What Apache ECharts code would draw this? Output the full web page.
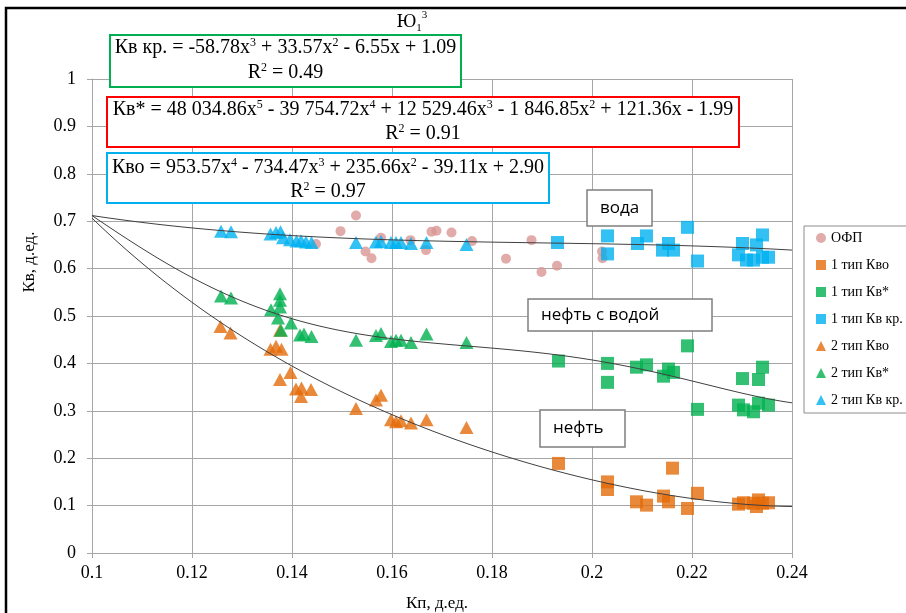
<!DOCTYPE html>
<html>
<head>
<meta charset="utf-8">
<script src="https://cdn.jsdelivr.net/npm/echarts/dist/echarts.min.js"></script>
<style>
html,body{margin:0;padding:0;background:#fff;}
#chart{width:906px;height:613px;}
</style>
</head>
<body>
<div id="chart"></div>
<script>
// --- measured points, [Кп, Кв] ---
const ofp = [
  [0.1448,0.652],[0.1497,0.679],[0.1528,0.712],[0.1547,0.636],[0.1559,0.622],
  [0.1578,0.665],[0.1637,0.660],[0.1668,0.639],[0.1679,0.678],[0.1689,0.680],
  [0.1719,0.676],[0.1760,0.658],[0.1828,0.621],[0.1879,0.660],[0.1899,0.593],
  [0.1930,0.606],[0.2020,0.636],[0.2021,0.622]
];
const type1Kvo = [
  [0.1933,0.189],[0.2031,0.150],[0.2031,0.134],[0.2089,0.108],[0.2109,0.101],
  [0.2143,0.120],[0.2153,0.108],[0.2161,0.179],[0.2191,0.094],[0.2211,0.126],
  [0.2293,0.103],[0.2303,0.106],[0.2323,0.105],[0.2333,0.112],[0.2341,0.105],
  [0.2353,0.106],[0.2329,0.098]
];
const type1KvStar = [
  [0.1933,0.405],[0.2031,0.400],[0.2031,0.360],[0.2089,0.392],[0.2109,0.397],
  [0.2143,0.373],[0.2153,0.388],[0.2163,0.381],[0.2191,0.437],[0.2211,0.303],
  [0.2301,0.368],[0.2293,0.312],[0.2303,0.302],[0.2323,0.298],[0.2333,0.366],
  [0.2341,0.392],[0.2353,0.312],[0.2333,0.316]
];
const type1KvKr = [
  [0.1931,0.655],[0.2031,0.669],[0.2031,0.631],[0.2091,0.653],[0.2109,0.669],
  [0.2141,0.639],[0.2153,0.653],[0.2163,0.639],[0.2191,0.687],[0.2211,0.616],
  [0.2301,0.653],[0.2293,0.629],[0.2309,0.618],[0.2323,0.618],[0.2329,0.650],
  [0.2341,0.671],[0.2353,0.624],[0.2341,0.624]
];
const type2Kvo = [
  [0.1257,0.478],[0.1277,0.464],[0.1357,0.430],[0.1368,0.436],[0.1379,0.430],
  [0.1376,0.470],[0.1376,0.366],[0.1397,0.381],[0.1408,0.346],[0.1419,0.348],
  [0.1418,0.330],[0.1438,0.345],[0.1528,0.305],[0.1568,0.323],[0.1578,0.333],
  [0.1598,0.281],[0.1608,0.277],[0.1618,0.279],[0.1638,0.274],[0.1669,0.281],
  [0.1749,0.265]
];
const type2KvStar = [
  [0.1258,0.542],[0.1278,0.538],[0.1376,0.547],[0.1376,0.533],[0.1376,0.519],
  [0.1358,0.513],[0.1372,0.496],[0.1398,0.485],[0.1378,0.470],[0.1416,0.460],
  [0.1424,0.462],[0.1439,0.457],[0.1528,0.449],[0.1568,0.459],[0.1578,0.463],
  [0.1598,0.446],[0.1608,0.449],[0.1618,0.449],[0.1638,0.444],[0.1669,0.462],
  [0.1749,0.444]
];
const type2KvKr = [
  [0.1258,0.679],[0.1278,0.678],[0.1357,0.673],[0.1368,0.676],[0.1377,0.678],
  [0.1382,0.665],[0.1396,0.661],[0.1409,0.658],[0.1418,0.659],[0.1428,0.656],
  [0.1439,0.655],[0.1528,0.655],[0.1568,0.656],[0.1578,0.657],[0.1598,0.655],
  [0.1608,0.655],[0.1618,0.655],[0.1638,0.653],[0.1669,0.655],[0.1749,0.651]
];

// --- trend polynomials, coefficients in ascending powers of x ---
const kvKrCoef   = [1.09, -6.55, 33.57, -58.78];
const kvStarCoef = [-1.99, 121.36, -1846.85, 12529.46, -39754.72, 48034.86];
const kvoCoef    = [2.90, -39.11, 235.66, -734.47, 953.57];

const legendNames = ['ОФП','1 тип Кво','1 тип Кв*','1 тип Кв кр.','2 тип Кво','2 тип Кв*','2 тип Кв кр.'];
const xMin = 0.1, xMax = 0.24, xStep = 0.02;
const yMin = 0, yMax = 1, yStep = 0.1;

function poly(c, x) {
  let s = 0;
  for (let i = c.length - 1; i >= 0; i--) s = s * x + c[i];
  return s;
}
function curve(c) {
  const pts = [];
  const n = 140;
  for (let i = 0; i <= n; i++) {
    const x = xMin + (xMax - xMin) * i / n;
    pts.push([x, poly(c, x)]);
  }
  return pts;
}

const serif = '"Liberation Serif", "Times New Roman", serif';
const sans = '"Open Sans", "Noto Sans", sans-serif';

const eqRich = {
  t: { fontFamily: serif, fontSize: 20, lineHeight: 22, color: '#000' },
  s: { fontFamily: serif, fontSize: 12, lineHeight: 13, verticalAlign: 'top', color: '#000' }
};

function eqText(x, y, str) {
  return {
    type: 'text', x: x, y: y, z: 102,
    style: { text: str, rich: eqRich, align: 'center', verticalAlign: 'middle' }
  };
}
function box(x, y, w, h, color, lw) {
  return {
    type: 'rect', z: 101,
    shape: { x: x, y: y, width: w, height: h },
    style: { fill: '#fff', stroke: color, lineWidth: lw }
  };
}
function note(x, y, w, h, label) {
  return [
    box(x, y, w, h, '#7f7f7f', 1.5),
    {
      type: 'text', x: x + 13, y: y + h / 2, z: 102,
      style: { text: label, font: '17px ' + sans, fill: '#000', align: 'left', verticalAlign: 'middle' }
    }
  ];
}

const chart = echarts.init(document.getElementById('chart'), null, { renderer: 'canvas' });

const scatterBase = { type: 'scatter', emphasis: { disabled: true }, z: 2 };
const trendBase = {
  type: 'line', showSymbol: false, symbol: 'none', smooth: false, z: 3,
  lineStyle: { color: '#404040', width: 1 }, emphasis: { disabled: true }, silent: true
};

chart.setOption({
  animation: false,
  backgroundColor: '#fff',
  grid: { left: 92, right: 114, top: 79, bottom: 60 },
  xAxis: {
    type: 'value', min: xMin, max: xMax, interval: xStep,
    axisLine: { show: true, lineStyle: { color: '#a6a6a6' } },
    axisTick: { show: true, inside: false, length: 5, lineStyle: { color: '#a6a6a6' } },
    splitLine: { show: true, lineStyle: { color: '#a6a6a6', width: 1 } },
    axisLabel: { fontFamily: serif, fontSize: 18, color: '#000', margin: 11,
      formatter: v => String(+v.toFixed(2)) }
  },
  yAxis: {
    type: 'value', min: yMin, max: yMax, interval: yStep,
    axisLine: { show: true, lineStyle: { color: '#a6a6a6' } },
    axisTick: { show: true, inside: false, length: 5, lineStyle: { color: '#a6a6a6' } },
    splitLine: { show: true, lineStyle: { color: '#a6a6a6', width: 1 } },
    axisLabel: { fontFamily: serif, fontSize: 18, color: '#000', margin: 16,
      formatter: v => String(+v.toFixed(1)) }
  },
  legend: {
    data: legendNames,
    orient: 'vertical', left: 811, top: 226,
    itemWidth: 10, itemHeight: 10, itemGap: 13,
    textStyle: { fontFamily: serif, fontSize: 14, color: '#000', lineHeight: 14 },
    selectedMode: false
  },
  series: [
    Object.assign({}, scatterBase, { name: 'ОФП', symbol: 'circle', symbolSize: 10, itemStyle: { color: '#d99694' }, data: ofp }),
    Object.assign({}, scatterBase, { name: '1 тип Кво', symbol: 'rect', symbolSize: 13, itemStyle: { color: '#e46c0a' }, data: type1Kvo }),
    Object.assign({}, scatterBase, { name: '1 тип Кв*', symbol: 'rect', symbolSize: 13, itemStyle: { color: '#00b050' }, data: type1KvStar }),
    Object.assign({}, scatterBase, { name: '1 тип Кв кр.', symbol: 'rect', symbolSize: 13, itemStyle: { color: '#00b0f0' }, data: type1KvKr }),
    Object.assign({}, scatterBase, { name: '2 тип Кво', symbol: 'triangle', symbolSize: [14, 13], itemStyle: { color: '#e46c0a' }, data: type2Kvo }),
    Object.assign({}, scatterBase, { name: '2 тип Кв*', symbol: 'triangle', symbolSize: [14, 13], itemStyle: { color: '#00b050' }, data: type2KvStar }),
    Object.assign({}, scatterBase, { name: '2 тип Кв кр.', symbol: 'triangle', symbolSize: [14, 13], itemStyle: { color: '#00b0f0' }, data: type2KvKr }),
    Object.assign({}, trendBase, { name: 'trend Кв кр.', data: curve(kvKrCoef) }),
    Object.assign({}, trendBase, { name: 'trend Кв*', data: curve(kvStarCoef) }),
    Object.assign({}, trendBase, { name: 'trend Кво', data: curve(kvoCoef) })
  ],
  graphic: [
    // outer frame
    { type: 'rect', z: 110, silent: true, shape: { x: 6, y: 8, width: 1000, height: 1000 },
      style: { fill: 'none', stroke: '#000', lineWidth: 2.5 } },
    // legend frame
    { type: 'rect', z: 90, silent: true, shape: { x: 804, y: 226, width: 200, height: 187 },
      style: { fill: 'none', stroke: '#8c8c8c', lineWidth: 1 } },
    // title
    { type: 'text', x: 412, y: 22, z: 102,
      style: { text: '{m|Ю}{b|1}{p|3}', align: 'center', verticalAlign: 'middle',
        rich: {
          m: { fontFamily: serif, fontSize: 19, lineHeight: 24, color: '#000' },
          b: { fontFamily: serif, fontSize: 11, lineHeight: 13, verticalAlign: 'bottom', color: '#000' },
          p: { fontFamily: serif, fontSize: 11, lineHeight: 13, verticalAlign: 'top', color: '#000' }
        } } },
    // axis titles
    { type: 'text', x: 437, y: 604, z: 102,
      style: { text: 'Кп, д.ед.', font: '17px ' + serif, fill: '#000', align: 'center', verticalAlign: 'middle' } },
    { type: 'text', x: 30, y: 262, rotation: Math.PI / 2, z: 102,
      style: { text: 'Кв, д.ед.', font: '17px ' + serif, fill: '#000', align: 'center', verticalAlign: 'middle' } },
    // equation boxes
    box(110, 35, 351, 52, '#00b050', 2),
    eqText(285.5, 48, '{t|Кв кр. = -58.78x}{s|3}{t| + 33.57x}{s|2}{t| - 6.55x + 1.09}'),
    eqText(285.5, 73, '{t|R}{s|2}{t| = 0.49}'),
    box(107, 97, 632, 50, '#ff0000', 2),
    eqText(423, 110, '{t|Кв* = 48 034.86x}{s|5}{t| - 39 754.72x}{s|4}{t| + 12 529.46x}{s|3}{t| - 1 846.85x}{s|2}{t| + 121.36x - 1.99}'),
    eqText(423, 134, '{t|R}{s|2}{t| = 0.91}'),
    box(107, 153, 442, 50, '#00b0f0', 2),
    eqText(328, 168, '{t|Кво = 953.57x}{s|4}{t| - 734.47x}{s|3}{t| + 235.66x}{s|2}{t| - 39.11x + 2.90}'),
    eqText(328, 192, '{t|R}{s|2}{t| = 0.97}')
  ].concat(
    note(587, 190, 65, 36, 'вода'),
    note(528, 299, 184, 32, 'нефть с водой'),
    note(540, 410, 85, 37, 'нефть')
  )
});
</script>
</body>
</html>
